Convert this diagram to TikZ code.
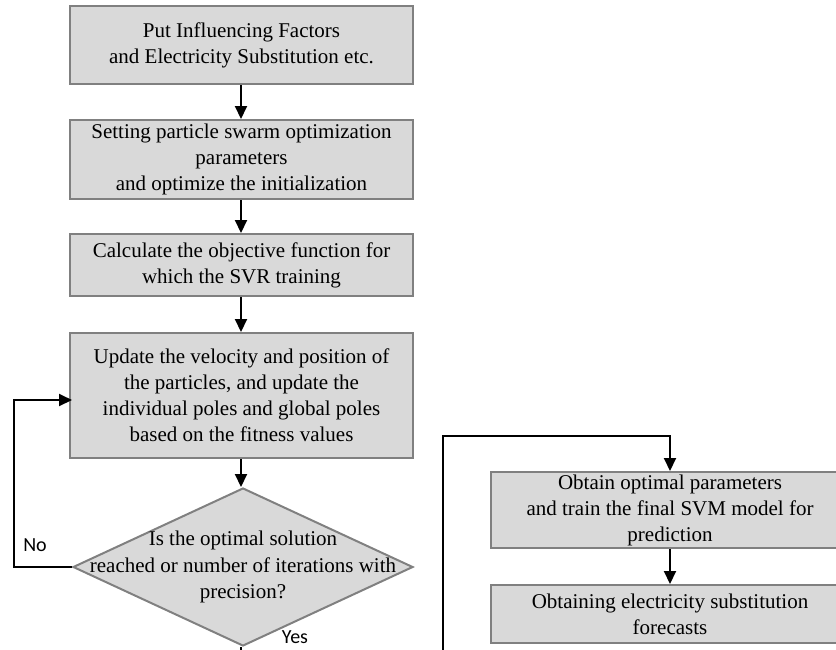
\documentclass[tikz,border=0pt]{standalone}
\usepackage{fontspec}
\setmainfont{Liberation Serif}
\newfontfamily\labelfont{Carlito}
\usetikzlibrary{shapes.geometric,arrows.meta}
\definecolor{boxfill}{HTML}{D9D9D9}
\definecolor{boxline}{HTML}{808080}
\begin{document}
\begin{tikzpicture}[x=1pt,y=-1pt,
  box/.style={draw=boxline, fill=boxfill, line width=2pt, inner sep=0pt, align=center,
    font=\fontsize{21}{26}\selectfont},
  decision/.style={diamond, draw=boxline, fill=boxfill, line width=2pt, inner sep=0pt},
  txt/.style={align=center, font=\fontsize{21}{26.5}\selectfont, inner sep=0pt},
  lbl/.style={font=\labelfont\fontsize{20}{22}\selectfont, inner sep=0pt},
  conn/.style={line width=2pt, -{Triangle[length=13pt,width=12pt]}},
  plain/.style={line width=2pt}]
\useasboundingbox (0,0) rectangle (836,649);
\clip (0,0) rectangle (836,649);
\node[box, minimum width=343pt, minimum height=78pt] (b1) at (241.5,45) {Put Influencing Factors\\and Electricity Substitution etc.};
\node[box, minimum width=343pt, minimum height=79pt] (b2) at (241.5,159.5) {Setting particle swarm optimization\\parameters\\and optimize the initialization};
\node[box, minimum width=343pt, minimum height=62pt] (b3) at (241.5,265) {Calculate the objective function for\\which the SVR training};
\node[box, minimum width=343pt, minimum height=125pt] (b4) at (241.5,395.5) {Update the velocity and position of\\the particles, and update the\\individual poles and global poles\\based on the fitness values};
\node[decision, minimum width=340pt, minimum height=158pt] (d) at (243,567) {};
\node[txt] (dt) at (243,567) {Is the optimal solution\\reached or number of iterations with\\precision?};
\node[box, minimum width=358pt, minimum height=76pt] (b5) at (670,510) {Obtain optimal parameters\\and train the final SVM model for\\prediction};
\node[box, minimum width=358pt, minimum height=58pt] (b6) at (670,614) {Obtaining electricity substitution\\forecasts};
\node[lbl] (no) at (35,545) {No};
\node[lbl] (yes) at (295,637) {Yes};
\coordinate (nl) at (14,567);
\coordinate (nu) at (14,400);
\coordinate (b4l) at (72,400);
\coordinate (dbot) at (243,655);
\coordinate (rb) at (443,655);
\coordinate (rt) at (443,436);
\coordinate (rr) at (670,436);
\draw[conn] (b1.south -| 241,0) -- (b2.north -| 241,0);
\draw[conn] (b2.south -| 241,0) -- (b3.north -| 241,0);
\draw[conn] (b3.south -| 241,0) -- (b4.north -| 241,0);
\draw[conn] (b4.south -| 241,0) -- (d.north -| 241,0);
\draw[conn] (d.west) -- (nl) -- (nu) -- (b4l);
\draw[plain] (d.south -| 241,0) -- (dbot -| 241,0);
\draw[conn] (rb) -- (rt) -- (rr) -- (b5.north -| rr);
\draw[conn] (b5.south -| rr) -- (b6.north -| rr);
\end{tikzpicture}
\end{document}
